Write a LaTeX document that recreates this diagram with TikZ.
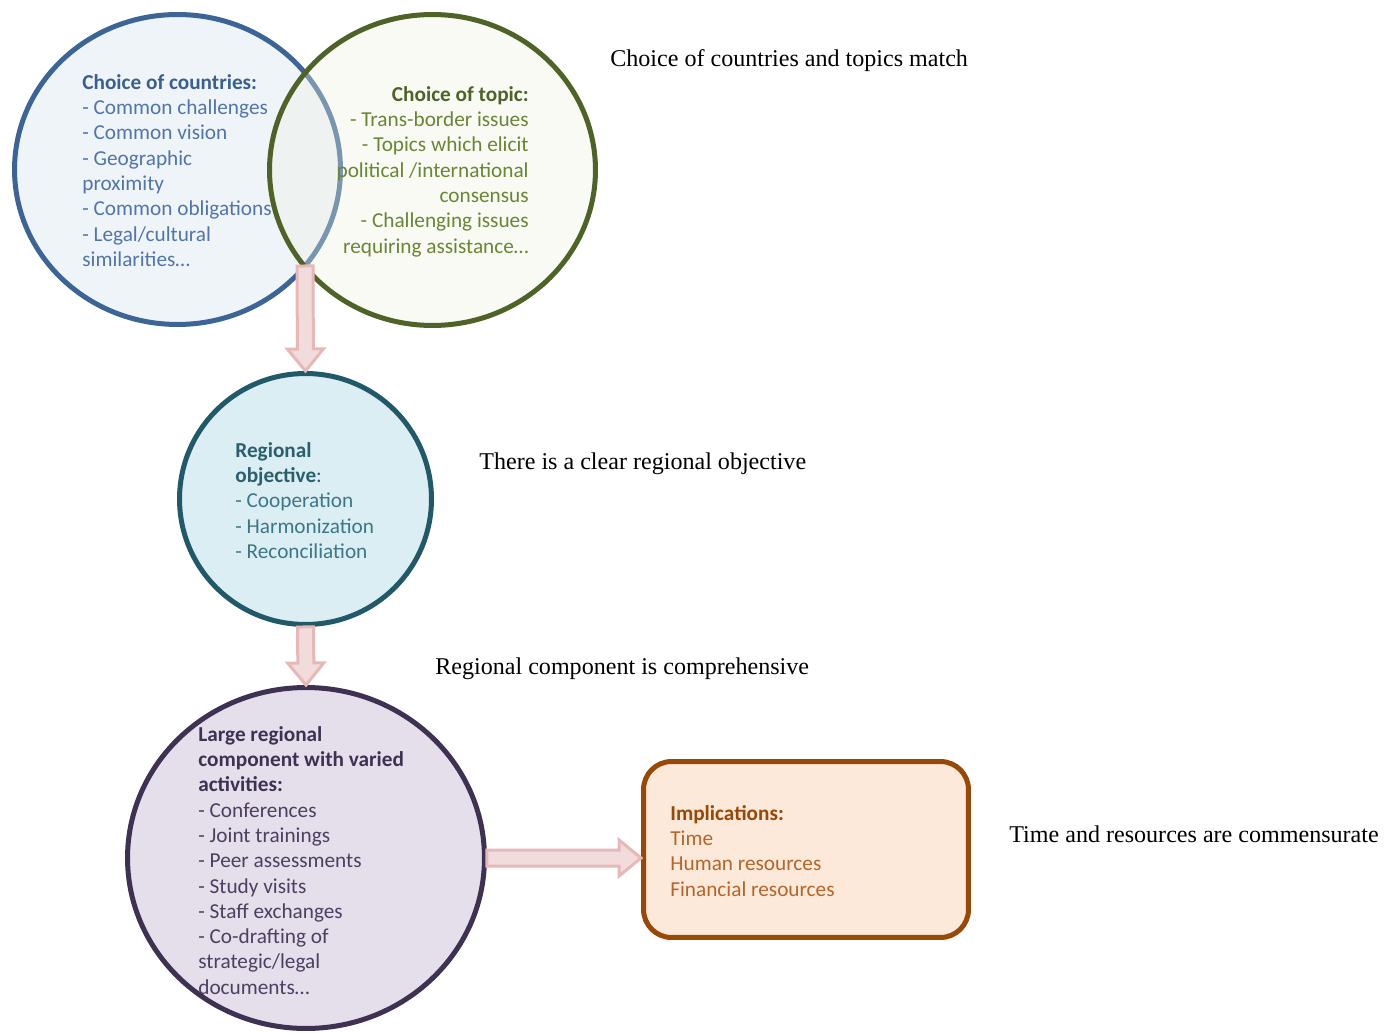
\documentclass[tikz,border=0pt]{standalone}
\usepackage{fontspec}
\setmainfont{Liberation Serif}
\newfontfamily\calibri{Carlito}
\usepackage{tikz}
\usetikzlibrary{shapes.geometric,calc}

\definecolor{countryline}{HTML}{3C6496}
\definecolor{countryfill}{HTML}{DCE6F2}
\definecolor{countrytitle}{HTML}{3B5F8E}
\definecolor{countryitem}{HTML}{5175AB}
\definecolor{topicline}{HTML}{4F6228}
\definecolor{topicfill}{HTML}{EBF1DE}
\definecolor{topictitle}{HTML}{4F6228}
\definecolor{topicitem}{HTML}{6A8535}
\definecolor{objline}{HTML}{215968}
\definecolor{objfill}{HTML}{DBEEF4}
\definecolor{objtitle}{HTML}{2B5F6B}
\definecolor{objitem}{HTML}{3D7786}
\definecolor{compline}{HTML}{3F3151}
\definecolor{compfill}{HTML}{E5DFEC}
\definecolor{comptitle}{HTML}{3F3151}
\definecolor{compitem}{HTML}{4D3F60}
\definecolor{implline}{HTML}{984807}
\definecolor{implfill}{HTML}{FDE9D9}
\definecolor{impltitle}{HTML}{984807}
\definecolor{implitem}{HTML}{B5652A}
\definecolor{arrowfill}{HTML}{F2DCDB}
\definecolor{arrowline}{HTML}{E6B9B8}

\tikzset{
    bubble/.style={ellipse, line width=0.1cm, inner sep=0pt},
    bubbletext/.style={font=\calibri\fontsize{12.1}{14.4}\selectfont, inner sep=0pt},
    remark/.style={font=\fontsize{13.7}{16}\selectfont, inner sep=0pt, anchor=west},
    arrowbody/.style={fill=arrowfill, draw=arrowline, line width=0.06cm, line join=miter}
}

% Fletxa gruixuda
\newcommand{\blockarrow}[2]{%
    \coordinate (h) at ($(#2)!0.44cm!(#1)$);
    \draw[arrowbody] ($(#1)!0.16cm!90:(#2)$) -- ($(h)!0.16cm!-90:(#1)$)
        -- ($(h)!0.36cm!-90:(#1)$) -- (#2) -- ($(h)!0.36cm!90:(#1)$)
        -- ($(h)!0.16cm!90:(#1)$) -- ($(#1)!0.16cm!-90:(#2)$) -- cycle;
}

\begin{document}
\begin{tikzpicture}[x=0.02cm, y=-0.02cm]

\useasboundingbox (0,0) rectangle (1395,1033);

% Countries
\node[
    bubble,
    draw=countryline,
    fill=countryfill,
    fill opacity=0.45,
    minimum width=6.52cm,
    minimum height=6.20cm
] (countries) at (177.5,169.5) {};

% Topic
\node[
    bubble,
    draw=topicline,
    fill=topicfill,
    fill opacity=0.35,
    minimum width=6.52cm,
    minimum height=6.22cm
] (topic) at (432.5,170) {};

\node[bubbletext, anchor=north west, align=left, text=countryitem] (countries-text) at (82,74)
    {\textbf{\color{countrytitle}Choice of countries:}\\- Common challenges\\- Common vision\\- Geographic\\proximity\\- Common obligations\\- Legal/cultural\\similarities…};

\node[bubbletext, anchor=north east, align=right, text=topicitem] (topic-text) at (529,86)
    {\textbf{\color{topictitle}Choice of topic:}\\- Trans-border issues\\- Topics which elicit\\political /international\\consensus\\- Challenging issues\\requiring assistance…};

% Objective
\node[
    bubble,
    draw=objline,
    fill=objfill,
    minimum width=5.04cm,
    minimum height=5.02cm
] (objective) at (305.5,499) {};

\node[bubbletext, anchor=north west, align=left, text=objitem] (objective-text) at (235,442)
    {\textbf{\color{objtitle}Regional}\\\textbf{\color{objtitle}objective}{\color{objtitle}:}\\- Cooperation\\- Harmonization\\- Reconciliation};

% Component
\node[
    bubble,
    draw=compline,
    fill=compfill,
    minimum width=7.14cm,
    minimum height=6.82cm
] (component) at (306,858) {};

\node[bubbletext, anchor=north west, align=left, text=compitem] (component-text) at (198,726)
    {\textbf{\color{comptitle}Large regional}\\\textbf{\color{comptitle}component with varied}\\\textbf{\color{comptitle}activities:}\\- Conferences\\- Joint trainings\\- Peer assessments\\- Study visits\\- Staff exchanges\\- Co-drafting of\\strategic/legal\\documents…};

% Implications
\node[
    draw=implline,
    fill=implfill,
    line width=0.1cm,
    rounded corners=0.56cm,
    minimum width=6.50cm,
    minimum height=3.52cm,
    inner sep=0pt
] (implications) at (806,849.5) {};

\node[bubbletext, anchor=north west, align=left, text=implitem] (implications-text) at (670,805)
    {\textbf{\color{impltitle}Implications:}\\Time\\Human resources\\Financial resources};

% Fletxes
\coordinate (venn-cross) at (305,266);
\coordinate (impl-in) at (implications.west |- component.east);
\blockarrow{venn-cross}{objective.north}
\blockarrow{objective.south}{component.north}
\blockarrow{component.east}{impl-in}

% Comentaris
\node[remark] (match) at (610,61) {Choice of countries and topics match};
\node[remark] (clear) at (479,464) {There is a clear regional objective};
\node[remark] (comprehensive) at (435,669) {Regional component is comprehensive};
\node[remark] (commensurate) at (1009,834) {Time and resources are commensurate};

\end{tikzpicture}
\end{document}
